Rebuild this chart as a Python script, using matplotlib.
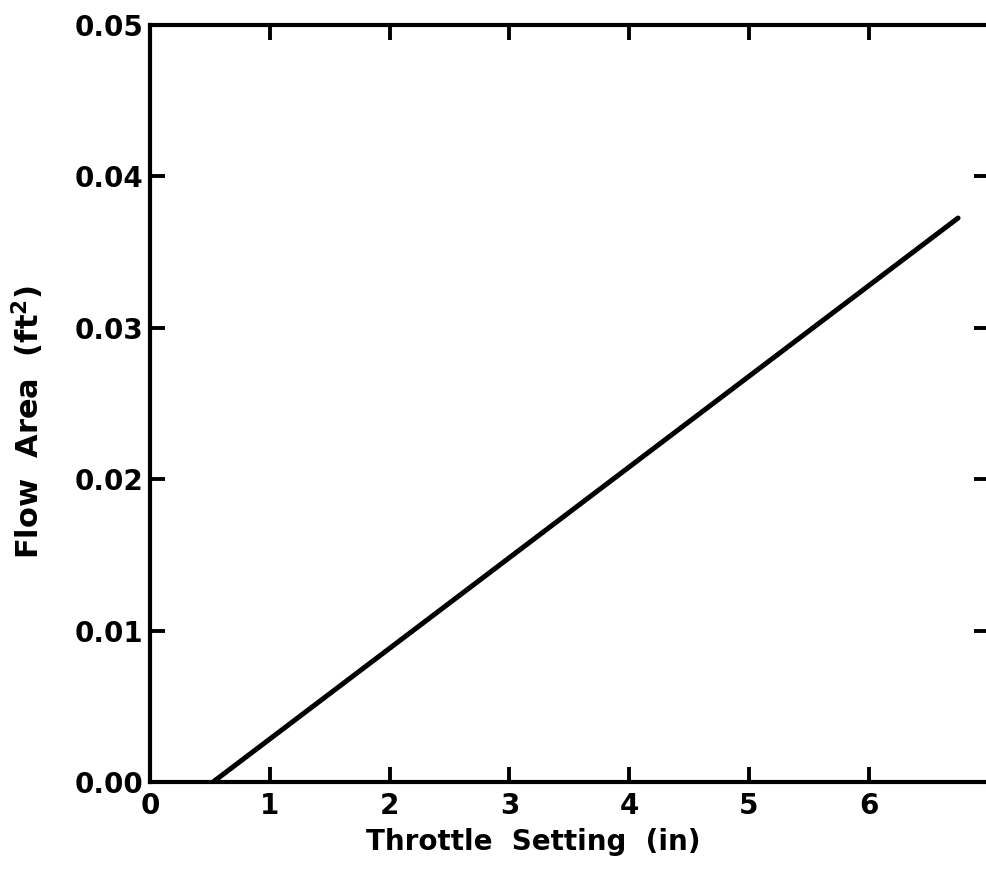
import matplotlib
matplotlib.use("Agg")
import matplotlib.pyplot as plt

# Data
throttle_in = [0.526, 6.745]
flow_area_ft2 = [0.0, 0.03725]

x_ticks = [0, 1, 2, 3, 4, 5, 6]
x_tick_labels = ["0", "1", "2", "3", "4", "5", "6"]
y_ticks = [0.00, 0.01, 0.02, 0.03, 0.04, 0.05]
y_tick_labels = ["0.00", "0.01", "0.02", "0.03", "0.04", "0.05"]

plt.rcParams['font.family'] = ['DejaVu Sans']

W, H = 986, 877
fig = plt.figure(figsize=(W / 100, H / 100), dpi=100)
left, right, top, bottom = 150, 988.6, 25, 782
ax = fig.add_axes([left / W, 1 - bottom / H, (right - left) / W, (bottom - top) / H])

ax.plot(throttle_in, flow_area_ft2, color='black', lw=3.6, solid_capstyle='round')

ax.set_xlim(0, 7)
ax.set_ylim(0, 0.05)
ax.set_xticks(x_ticks)
ax.set_xticklabels(x_tick_labels)
ax.set_yticks(y_ticks)
ax.set_yticklabels(y_tick_labels)

for s in ax.spines.values():
    s.set_linewidth(3.0)

ax.tick_params(axis='both', direction='in', length=11, width=2.8,
               top=True, right=True, labelsize=20)
ax.tick_params(axis='x', pad=7)
ax.tick_params(axis='y', pad=5)
for lab in ax.get_xticklabels() + ax.get_yticklabels():
    lab.set_fontweight('bold')

ax.set_xlabel("Throttle  Setting  (in)", fontsize=20, fontweight='bold')
ax.set_ylabel("Flow  Area  (ft$^{\\mathbf{2}}$)", fontsize=22, fontweight='bold')
ax.xaxis.set_label_coords((533 - left) / (right - left), 1 - (828 - top) / (bottom - top))
ax.yaxis.set_label_coords((46 - left) / (right - left), 1 - (422 - top) / (bottom - top))

fig.savefig("out.png", dpi=100)
